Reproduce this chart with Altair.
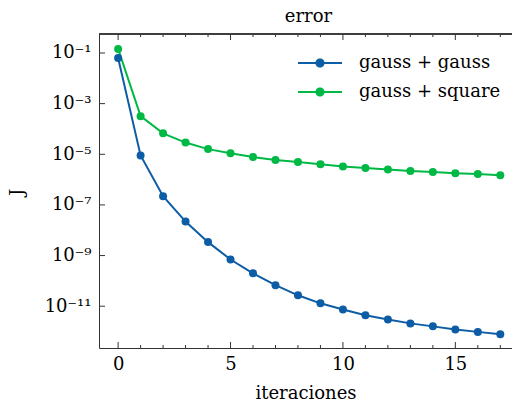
import altair as alt
import pandas as pd

iterations = list(range(18))
series_names = ["gauss + gauss", "gauss + square"]
gauss_gauss = [6.3e-2, 9.0e-6, 2.2e-7, 2.2e-8, 3.4e-9, 7.0e-10, 2.0e-10, 6.8e-11,
               2.7e-11, 1.3e-11, 7.4e-12, 4.4e-12, 3.0e-12, 2.1e-12, 1.6e-12,
               1.2e-12, 9.7e-13, 7.9e-13]
gauss_square = [1.45e-1, 3.2e-4, 6.7e-5, 2.9e-5, 1.6e-5, 1.1e-5, 7.8e-6, 6.0e-6,
                5.0e-6, 4.0e-6, 3.3e-6, 2.9e-6, 2.5e-6, 2.2e-6, 2.0e-6, 1.8e-6,
                1.65e-6, 1.5e-6]
colors = ["#0C5DA5", "#00B945"]

x_major = [0, 5, 10, 15]
x_minor = [1, 2, 3, 4, 6, 7, 8, 9, 11, 12, 13, 14, 16, 17]
y_major = [1e-1, 1e-3, 1e-5, 1e-7, 1e-9, 1e-11]
y_exponents = [-1, -3, -5, -7, -9, -11]
y_labels = ["10⁻¹", "10⁻³", "10⁻⁵", "10⁻⁷", "10⁻⁹", "10⁻¹¹"]

FONT = "DejaVu Serif"
FS = 18
AX = "#333333"
W, H = 413, 314

df = pd.DataFrame({
    "it": iterations * 2,
    "J": gauss_gauss + gauss_square,
    "series": [series_names[0]] * 18 + [series_names[1]] * 18,
})

label_expr = ""
for e, lab in zip(y_exponents, y_labels):
    label_expr += f"round(log(datum.value)/LN10) == {e} ? '{lab}' : "
label_expr += "''"

xscale = alt.Scale(domain=[-0.85, 17.52], nice=False, zero=False)
yscale = alt.Scale(type="log", domain=[10 ** -12.65, 10 ** -0.25], nice=False)
cscale = alt.Scale(domain=series_names, range=colors)

x_enc = alt.X("it:Q", scale=xscale, title="iteraciones",
              axis=alt.Axis(values=x_major, ticks=False, tickSize=0, grid=False,
                            labelPadding=7, titlePadding=11, domainColor=AX,
                            labelFont=FONT, labelFontSize=FS, titleFont=FONT,
                            titleFontSize=FS, titleFontWeight="normal",
                            labelColor="black", titleColor="black"))
y_enc = alt.Y("J:Q", scale=yscale, title="J",
              axis=alt.Axis(values=y_major, labelExpr=label_expr, ticks=False,
                            tickSize=0, grid=False, labelPadding=8, domainColor=AX,
                            labelFont=FONT, labelFontSize=FS, titleFont=FONT,
                            titleFontSize=FS, titleFontWeight="normal",
                            titleX=-73, titleY=158, labelColor="black",
                            titleColor="black"))

sym = "M-2,-0.09L2,-0.09L2,0.09L-2,0.09Z M-0.42,0A0.42,0.42,0,1,1,0.42,0A0.42,0.42,0,1,1,-0.42,0Z"
legend = alt.Legend(title=None, orient="none", legendX=210, legendY=18,
                    symbolType=sym, symbolSize=484, symbolOpacity=1,
                    symbolStrokeWidth=0, labelFont=FONT, labelFontSize=FS,
                    labelOffset=28, rowPadding=9, labelColor="black")

lines = alt.Chart(df).mark_line(strokeWidth=2).encode(
    x=x_enc, y=y_enc,
    color=alt.Color("series:N", scale=cscale, legend=legend),
)

points = alt.Chart(df).mark_point(filled=True, size=64, opacity=1).encode(
    x="it:Q", y="J:Q",
    color=alt.Color("series:N", scale=cscale, legend=legend),
)

tick_major = pd.DataFrame({"v": x_major})
tick_minor = pd.DataFrame({"v": x_minor})
ytick = pd.DataFrame({"v": y_major})

bx_major = alt.Chart(tick_major).mark_rule(color=AX, strokeWidth=1).encode(
    x=alt.X("v:Q"), y=alt.value(H), y2=alt.value(H - 6))
bx_minor = alt.Chart(tick_minor).mark_rule(color=AX, strokeWidth=1).encode(
    x=alt.X("v:Q"), y=alt.value(H), y2=alt.value(H - 3))
tx_major = alt.Chart(tick_major).mark_rule(color=AX, strokeWidth=1).encode(
    x=alt.X("v:Q"), y=alt.value(0), y2=alt.value(6))
tx_minor = alt.Chart(tick_minor).mark_rule(color=AX, strokeWidth=1).encode(
    x=alt.X("v:Q"), y=alt.value(0), y2=alt.value(3))
ly_major = alt.Chart(ytick).mark_rule(color=AX, strokeWidth=1).encode(
    y=alt.Y("v:Q"), x=alt.value(0), x2=alt.value(6))
top_spine = alt.Chart(tick_major).mark_rule(color=AX, strokeWidth=1).encode(
    x=alt.value(0), x2=alt.value(W), y=alt.value(0))

chart = alt.layer(
    lines, points, bx_major, bx_minor, tx_major, tx_minor, ly_major, top_spine
).properties(
    width=W, height=H,
    title=alt.TitleParams("error", font=FONT, fontSize=FS, fontWeight="normal",
                          color="black", offset=8, dx=3),
    autosize=alt.AutoSizeParams(type="none"),
    padding={"left": 99, "top": 34, "right": 0, "bottom": 55},
).configure_view(stroke=None)

chart.save("out.html", embed_options={"renderer": "svg", "actions": False})
